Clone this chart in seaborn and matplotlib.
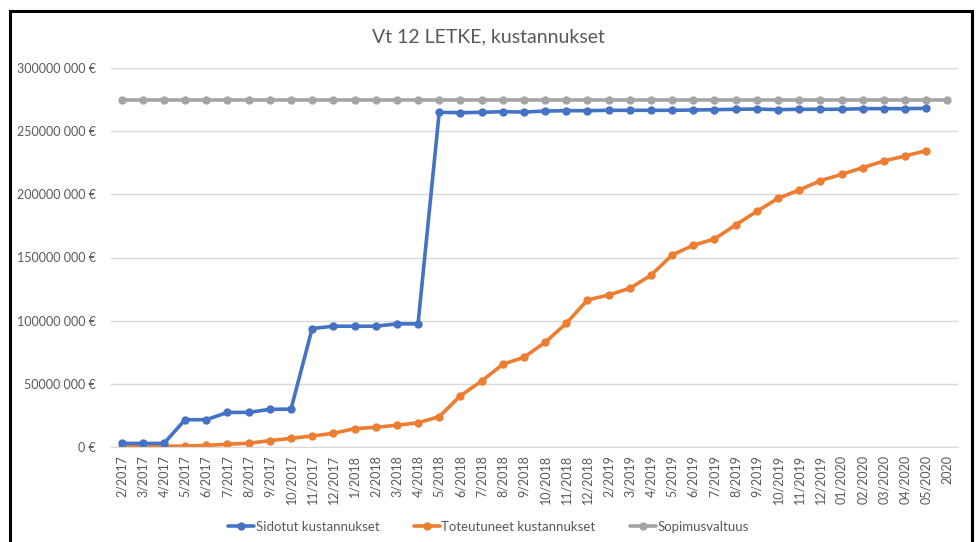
import matplotlib
matplotlib.use("Agg")
import matplotlib.pyplot as plt
import seaborn as sns
import numpy as np
import pandas as pd
from matplotlib.ticker import FuncFormatter

months = ["2/2017", "3/2017", "4/2017", "5/2017", "6/2017", "7/2017", "8/2017", "9/2017",
          "10/2017", "11/2017", "12/2017", "1/2018", "2/2018", "3/2018", "4/2018", "5/2018",
          "6/2018", "7/2018", "8/2018", "9/2018", "10/2018", "11/2018", "12/2018", "2/2019",
          "3/2019", "4/2019", "5/2019", "6/2019", "7/2019", "8/2019", "9/2019", "10/2019",
          "11/2019", "12/2019", "01/2020", "02/2020", "03/2020", "04/2020", "05/2020", "2020"]

# million euros
sidotut = [2.6, 2.6, 2.6, 21.4, 21.4, 27.2, 27.2, 29.6, 29.8, 93.7, 95.5, 95.5, 95.5, 97.4, 97.4,
           265.1, 264.8, 265.1, 265.6, 265.3, 266.1, 266.4, 266.4, 266.7, 266.7, 266.7, 266.7,
           266.9, 267.2, 267.5, 267.7, 267.2, 267.5, 267.5, 267.5, 268.0, 268.0, 268.0, 268.3]
toteutuneet = [0.0, 0.0, 0.3, 0.5, 1.0, 2.0, 2.7, 4.8, 6.6, 8.5, 10.6, 14.3, 15.4, 17.0, 19.0,
               23.8, 40.4, 52.0, 65.3, 70.9, 82.7, 97.8, 116.3, 120.3, 125.6, 135.9, 152.0,
               159.7, 164.7, 175.8, 186.6, 196.9, 203.5, 210.9, 215.9, 221.2, 226.5, 230.5, 234.7]
sopimusvaltuus = [275.0] * 40

series_names = ["Sidotut kustannukset", "Toteutuneet kustannukset", "Sopimusvaltuus"]
colors = ["#4472C4", "#ED7D31", "#A5A5A5"]

sns.set_style("white")
plt.rcParams["font.family"] = ["Lato", "DejaVu Sans"]

fig = plt.figure(figsize=(9.77, 5.42), dpi=100)
ax = fig.add_axes([111 / 977, 1 - 446.7 / 542, (958 - 111) / 977, (446.7 - 68.3) / 542])

frames = []
for name, vals in zip(series_names, [sidotut, toteutuneet, sopimusvaltuus]):
    frames.append(pd.DataFrame({"x": np.arange(len(vals)), "y": np.array(vals) * 1e6, "series": name}))
df = pd.concat(frames, ignore_index=True)

# draw grey first so it sits behind
for name, col in zip(series_names[::-1], colors[::-1]):
    sub = df[df["series"] == name]
    sns.lineplot(data=sub, x="x", y="y", ax=ax, color=col, linewidth=2.6, marker="o",
                 markersize=6, markeredgewidth=0, label=name, legend=False)

ax.set_xlim(-0.5, len(months) - 0.5)
ax.set_ylim(0, 300e6)
ax.set_yticks(np.arange(0, 300e6 + 1, 50e6))
ax.yaxis.set_major_formatter(FuncFormatter(
    lambda v, p: "0 €" if v == 0 else f"{int(v // 1e6)}000 000 €"))
ax.set_xticks(np.arange(len(months)))
ax.set_xticklabels(months, rotation=90)
ax.tick_params(axis="both", colors="#595959", labelsize=9, length=0)
ax.tick_params(axis="y", pad=11)
ax.tick_params(axis="x", pad=6)
ax.grid(axis="y", color="#D9D9D9", linewidth=1)
ax.set_axisbelow(True)
for s in ["top", "right", "left"]:
    ax.spines[s].set_visible(False)
ax.spines["bottom"].set_color("#D9D9D9")
ax.set_xlabel("")
ax.set_ylabel("")

fig.text(0.5, 1 - 37 / 542, "Vt 12 LETKE, kustannukset", ha="center", va="center",
         fontsize=14, color="#595959")

handles, labels = ax.get_legend_handles_labels()
order = [labels.index(n) for n in series_names]
fig.legend([handles[i] for i in order], [labels[i] for i in order], loc="center",
           bbox_to_anchor=(0.5, 1 - 527 / 542), ncol=3, frameon=False, fontsize=9.5,
           labelcolor="#595959", handlelength=2.0, handletextpad=0.1, columnspacing=2.6)

# chart border
border = plt.Rectangle((9.5 / 977, -0.05), (972 - 9.5) / 977, 1.05 - 10.5 / 542,
                       transform=fig.transFigure, fill=False, edgecolor="black", linewidth=2.2)
fig.add_artist(border)

fig.savefig("out.png", dpi=100)
